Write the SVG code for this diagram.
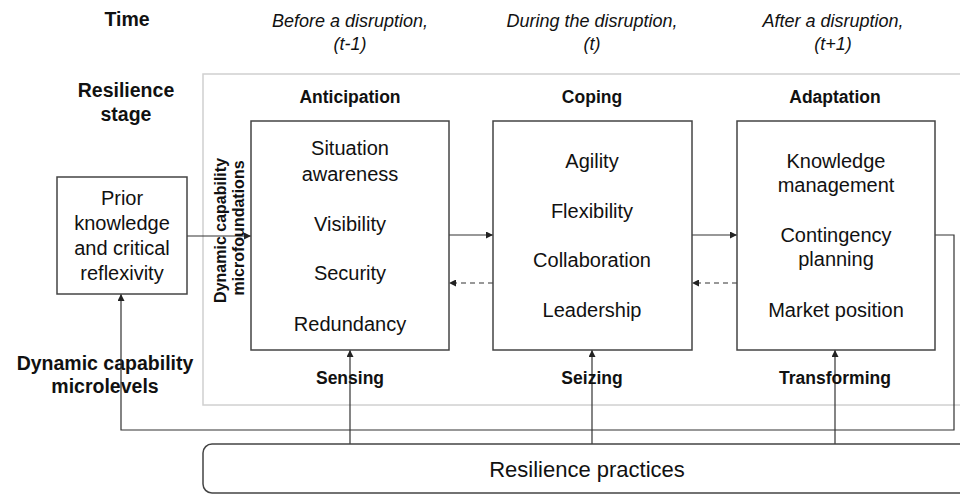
<svg xmlns="http://www.w3.org/2000/svg" width="960" height="494" viewBox="0 0 960 494">
  <defs>
    <marker id="arrow" viewBox="0 0 10 10" refX="10" refY="5" markerWidth="7" markerHeight="7" markerUnits="userSpaceOnUse" orient="auto">
      <path d="M0,0 L10,5 L0,10 Z" fill="#222"/>
    </marker>
    <style>
      text { font-family: "Liberation Sans", Arial, sans-serif; fill: #111; text-anchor: middle; }
      .hdr { font-weight: bold; font-size: 19.5px; }
      .time { font-style: italic; font-size: 18px; }
      .stage { font-weight: bold; font-size: 17.5px; }
      .item { font-size: 20px; }
      .box { fill: #fff; stroke: #444; stroke-width: 1.5; }
      .frame { fill: none; stroke: #d0d0d0; stroke-width: 1.5; }
      .conn { fill: none; stroke: #333; stroke-width: 1.2; }
      .dash { stroke-dasharray: 5 4; }
    </style>
  </defs>

  <rect width="960" height="494" fill="#fff"/>

  <!-- row and column headings -->
  <g id="headings">
    <text class="hdr" x="127" y="26">Time</text>
    <text class="time" x="350" y="27">Before a disruption,</text>
    <text class="time" x="350" y="50">(t-1)</text>
    <text class="time" x="592" y="27">During the disruption,</text>
    <text class="time" x="592" y="50">(t)</text>
    <text class="time" x="833" y="27">After a disruption,</text>
    <text class="time" x="833" y="50">(t+1)</text>
    <text class="hdr" x="126" y="97">Resilience</text>
    <text class="hdr" x="126" y="121">stage</text>
    <text class="hdr" x="105" y="370">Dynamic capability</text>
    <text class="hdr" x="105" y="393">microlevels</text>
  </g>

  <!-- light frame around the stages -->
  <rect class="frame" x="203" y="74" width="780" height="331"/>

  <!-- connectors -->
  <g id="connectors">
    <line class="conn" x1="187" y1="236" x2="251" y2="236" marker-end="url(#arrow)"/>
    <line class="conn" x1="449" y1="235" x2="493" y2="235" marker-end="url(#arrow)"/>
    <line class="conn dash" x1="493" y1="283" x2="449" y2="283" marker-end="url(#arrow)"/>
    <line class="conn" x1="692" y1="235" x2="737" y2="235" marker-end="url(#arrow)"/>
    <line class="conn dash" x1="737" y1="283" x2="692" y2="283" marker-end="url(#arrow)"/>
    <polyline class="conn" points="935,235 954,235 954,430 121,430 121,294" marker-end="url(#arrow)"/>
    <line class="conn" x1="350" y1="444" x2="350" y2="350" marker-end="url(#arrow)"/>
    <line class="conn" x1="592" y1="444" x2="592" y2="350" marker-end="url(#arrow)"/>
    <line class="conn" x1="835" y1="444" x2="835" y2="350" marker-end="url(#arrow)"/>
  </g>

  <g id="prior-knowledge">
    <rect class="box" x="57" y="177" width="130" height="117"/>
    <text class="item" x="122" y="205">Prior</text>
    <text class="item" x="122" y="230">knowledge</text>
    <text class="item" x="122" y="255">and critical</text>
    <text class="item" x="122" y="280">reflexivity</text>
  </g>

  <g id="microfoundations-label">
    <text class="stage" transform="translate(229,228) rotate(-90)">
      <tspan x="0" y="-3" style="font-size:16px">Dynamic capability</tspan>
      <tspan x="0" y="15" style="font-size:16px">microfoundations</tspan>
    </text>
  </g>

  <g id="anticipation">
    <text class="stage" x="350" y="103">Anticipation</text>
    <rect class="box" x="251" y="121" width="198" height="229"/>
    <text class="item" x="350" y="155">Situation</text>
    <text class="item" x="350" y="181">awareness</text>
    <text class="item" x="350" y="231">Visibility</text>
    <text class="item" x="350" y="280">Security</text>
    <text class="item" x="350" y="331">Redundancy</text>
    <text class="stage" x="350" y="384">Sensing</text>
  </g>

  <g id="coping">
    <text class="stage" x="592" y="103">Coping</text>
    <rect class="box" x="493" y="121" width="199" height="229"/>
    <text class="item" x="592" y="168">Agility</text>
    <text class="item" x="592" y="218">Flexibility</text>
    <text class="item" x="592" y="267">Collaboration</text>
    <text class="item" x="592" y="317">Leadership</text>
    <text class="stage" x="592" y="384">Seizing</text>
  </g>

  <g id="adaptation">
    <text class="stage" x="835" y="103">Adaptation</text>
    <rect class="box" x="737" y="121" width="198" height="229"/>
    <text class="item" x="836" y="168">Knowledge</text>
    <text class="item" x="836" y="192">management</text>
    <text class="item" x="836" y="242">Contingency</text>
    <text class="item" x="836" y="266">planning</text>
    <text class="item" x="836" y="317">Market position</text>
    <text class="stage" x="835" y="384">Transforming</text>
  </g>

  <g id="resilience-practices">
    <rect class="box" x="203" y="444" width="790" height="49" rx="9"/>
    <text x="587" y="477" style="font-size:22px">Resilience practices</text>
  </g>
</svg>
